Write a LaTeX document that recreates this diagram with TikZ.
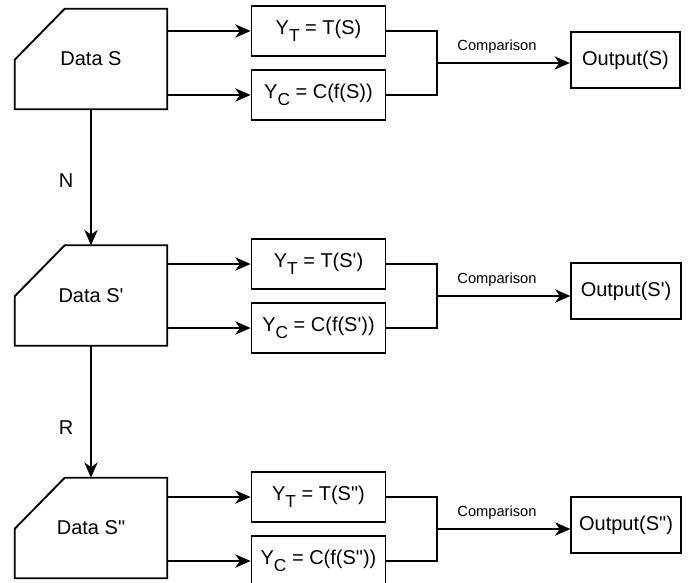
\documentclass[tikz,border=0pt]{standalone}
\usepackage{fontspec}
\setmainfont{Liberation Sans}[Ligatures=TeXOff]
\usetikzlibrary{arrows.meta}
\newcommand{\sq}{'}
\newcommand{\dq}{"}
\newcommand{\subT}{\raisebox{-5.5pt}{\fontsize{13}{14}\selectfont T}}
\newcommand{\subC}{\raisebox{-5.5pt}{\fontsize{13}{14}\selectfont C}}
\tikzset{
  ln/.style={line width=1.4pt, line join=miter},
  arr/.style={ln, -{Stealth[length=11.5pt,width=10pt,inset=3.5pt]}},
  fbox/.style={draw, ln, minimum width=100.5pt, minimum height=37.5pt, inner sep=0pt, font=\fontsize{15}{18}\selectfont},
  obox/.style={draw, ln, minimum width=82pt, minimum height=41.5pt, inner sep=0pt, font=\fontsize{15}{18}\selectfont},
  dnode/.style={minimum width=114pt, minimum height=75pt, inner sep=0pt, font=\fontsize{15}{18}\selectfont},
  lbl/.style={inner sep=0pt, font=\fontsize{15}{18}\selectfont},
  cmp/.style={inner sep=0pt, font=\fontsize{11}{13}\selectfont},
}
\newcommand{\datashape}[1]{\draw[ln] ([xshift=37.5pt]#1.north west) -- (#1.north east) -- (#1.south east) -- (#1.south west) -- ([yshift=-38.25pt]#1.north west) -- cycle;}
\begin{document}
\begin{tikzpicture}[x=0.75pt, y=-0.75pt]
\useasboundingbox (0,0) rectangle (691,582);
% row 1
\node[dnode] (d1) at (91,59) {Data S};
\datashape{d1}
\node[fbox] (yt1) at (318.5,31) {Y\subT\ = T(S)};
\node[fbox] (yc1) at (318.5,95) {Y\subC\ = C(f(S))};
\coordinate (j1) at (437,63);
\node[obox] (o1) at (625.5,60) {Output(S)};
\draw[arr] (yt1.west -| d1.east) -- (yt1.west);
\draw[arr] (yc1.west -| d1.east) -- (yc1.west);
\draw[ln] (yt1.east) -| (j1);
\draw[ln] (yc1.east) -| (j1);
\draw[arr] (j1) -- (j1 -| o1.west);
\node[cmp] (c1) at (497,47) {Comparison};
% row 2
\node[dnode] (d2) at (91,295.5) {Data S\sq};
\datashape{d2}
\node[fbox] (yt2) at (318.5,264) {Y\subT\ = T(S\sq)};
\node[fbox] (yc2) at (318.5,328) {Y\subC\ = C(f(S\sq))};
\coordinate (j2) at (437,296);
\node[obox] (o2) at (626,291) {Output(S\sq)};
\draw[arr] (yt2.west -| d2.east) -- (yt2.west);
\draw[arr] (yc2.west -| d2.east) -- (yc2.west);
\draw[ln] (yt2.east) -| (j2);
\draw[ln] (yc2.east) -| (j2);
\draw[arr] (j2) -- (j2 -| o2.west);
\node[cmp] (c2) at (497,280) {Comparison};
% row 3
\node[dnode] (d3) at (91,528) {Data S\dq};
\datashape{d3}
\node[fbox] (yt3) at (318.5,497) {Y\subT\ = T(S\dq)};
\node[fbox] (yc3) at (318.5,561) {Y\subC\ = C(f(S\dq))};
\coordinate (j3) at (437,529);
\node[obox] (o3) at (626,525) {Output(S\dq)};
\draw[arr] (yt3.west -| d3.east) -- (yt3.west);
\draw[arr] (yc3.west -| d3.east) -- (yc3.west);
\draw[ln] (yt3.east) -| (j3);
\draw[ln] (yc3.east) -| (j3);
\draw[arr] (j3) -- (j3 -| o3.west);
\node[cmp] (c3) at (497,513) {Comparison};
% vertical
\draw[arr] (d1.south) -- (d2.north);
\draw[arr] (d2.south) -- (d3.north);
\node[lbl] (n) at (66,181) {N};
\node[lbl] (r) at (66,428) {R};
\end{tikzpicture}
\end{document}
